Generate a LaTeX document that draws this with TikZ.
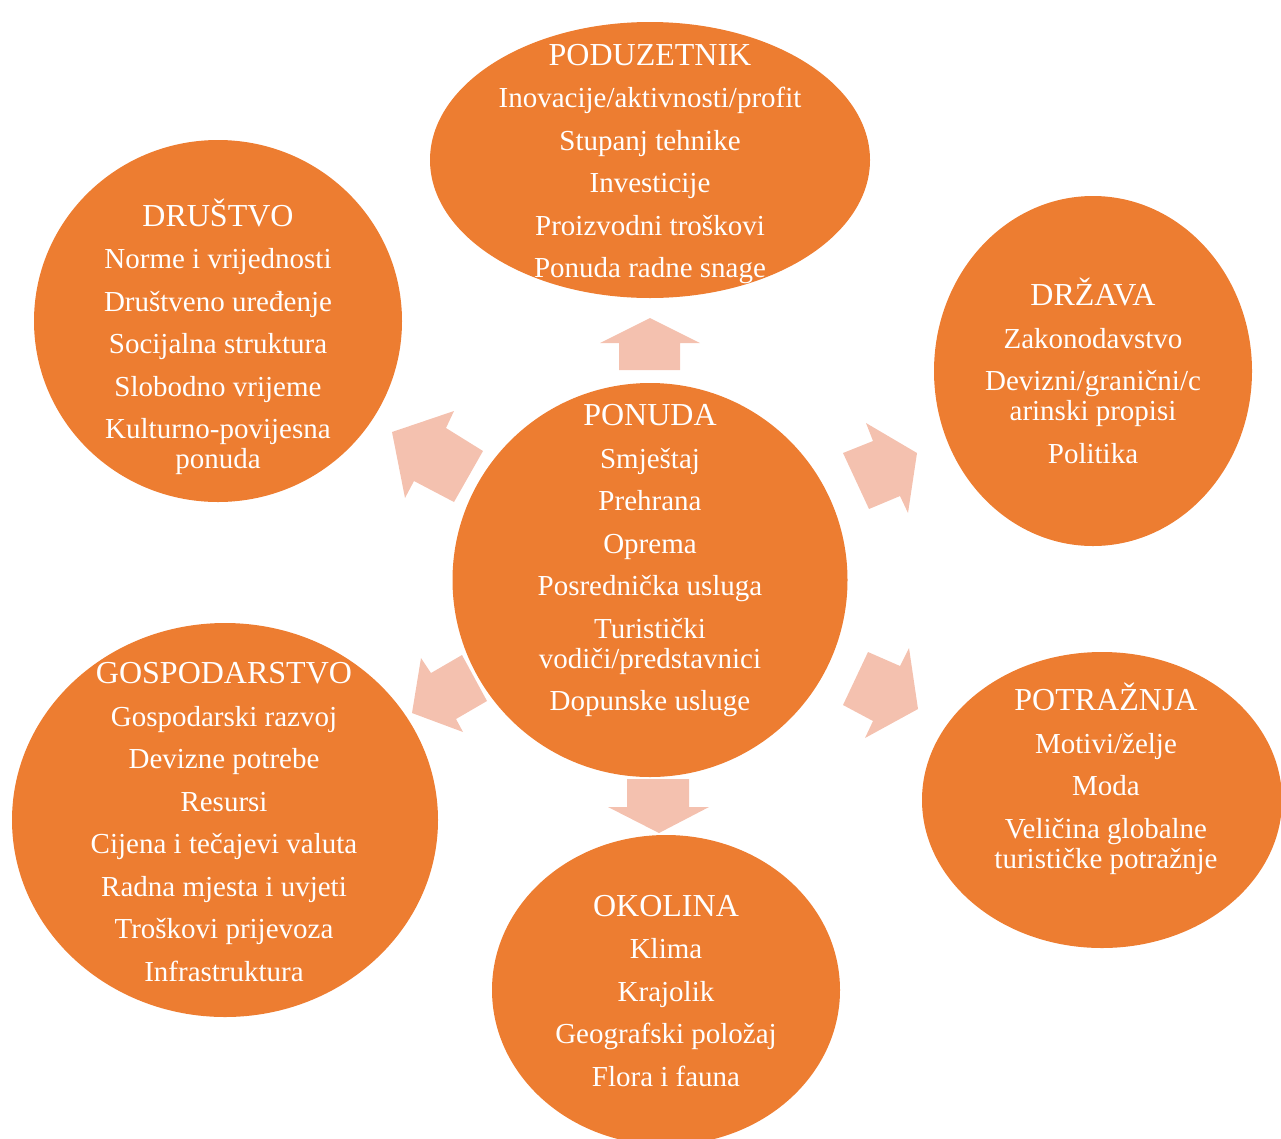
\documentclass[tikz,border=0pt]{standalone}
\usepackage{fontspec}
\setmainfont{Liberation Serif}
\usetikzlibrary{shapes.geometric}
\definecolor{orangeF}{HTML}{ED7D31}
\definecolor{salmon}{HTML}{F4C1AF}
\tikzset{
  bubble/.style={ellipse, fill=orangeF, draw=none, inner sep=0pt},
  label/.style={text=white, align=center, inner sep=0pt, font=\fontsize{29}{30}\selectfont},
  blockarrow/.style={fill=salmon, draw=none}
}
\newcommand{\gap}{\\[12.5pt]}
\newcommand{\ttl}[1]{{\fontsize{32}{30}\selectfont #1}}
\begin{document}
\begin{tikzpicture}[x=1pt,y=-1pt]
\useasboundingbox (0,0) rectangle (1281,1138);
% ellipses
\node[bubble, minimum width=440, minimum height=276] (pod) at (650,160) {};
\node[bubble, minimum width=368, minimum height=362] (dru) at (218,321) {};
\node[bubble, minimum width=318, minimum height=350] (drz) at (1093,371) {};
\node[bubble, minimum width=395, minimum height=394] (pon) at (650,580) {};
\node[bubble, minimum width=426, minimum height=394] (gos) at (225,820) {};
\node[bubble, minimum width=360, minimum height=296] (pot) at (1102,800) {};
\node[bubble, minimum width=348, minimum height=310] (oko) at (666,990) {};
% texts
\node[label] (podT) at (650,164) {\ttl{PODUZETNIK}\gap Inovacije/aktivnosti/profit\gap Stupanj tehnike\gap Investicije\gap Proizvodni troškovi\gap Ponuda radne snage};
\node[label] (druT) at (218,337) {\ttl{DRUŠTVO}\gap Norme i vrijednosti\gap Društveno uređenje\gap Socijalna struktura\gap Slobodno vrijeme\gap Kulturno-povijesna\\ ponuda};
\node[label] (drzT) at (1093,371) {\ttl{DRŽAVA}\gap Zakonodavstvo\gap Devizni/granični/c\\ arinski propisi\gap Politika};
\node[label] (ponT) at (650,561) {\ttl{PONUDA}\gap Smještaj\gap Prehrana\gap Oprema\gap Posrednička usluga\gap Turistički\\ vodiči/predstavnici\gap Dopunske usluge};
\node[label] (gosT) at (224,822) {\ttl{GOSPODARSTVO}\gap Gospodarski razvoj\gap Devizne potrebe\gap Resursi\gap Cijena i tečajevi valuta\gap Radna mjesta i uvjeti\gap Troškovi prijevoza\gap Infrastruktura};
\node[label] (potT) at (1106,779) {\ttl{POTRAŽNJA}\gap Motivi/želje\gap Moda\gap Veličina globalne\\ turističke potražnje};
\node[label] (okoT) at (666,991) {\ttl{OKOLINA}\gap Klima\gap Krajolik\gap Geografski položaj\gap Flora i fauna};
% block arrows
\fill[blockarrow] (619,370) -- (619,343) -- (600,343) -- (650,318) -- (700,343) -- (680,343) -- (680,370) -- cycle;
\fill[blockarrow] (627,779) -- (627,807) -- (608,807) -- (659,833) -- (709,807) -- (689,807) -- (689,779) -- cycle;
\fill[blockarrow] (392,432) -- (454,411) -- (446,428) -- (483,451) -- (454,502) -- (414,481) -- (405,498) -- cycle;
\fill[blockarrow] (917,453) -- (866,423) -- (873,441) -- (843,453) -- (869,509) -- (900,496) -- (908,513) -- cycle;
\fill[blockarrow] (412,713) -- (421,658) -- (431,673) -- (462,655) -- (487,701) -- (456,719) -- (463,732) -- cycle;
\fill[blockarrow] (918,709) -- (909,648) -- (900,666) -- (868,652) -- (843,705) -- (873,721) -- (865,738) -- cycle;
\end{tikzpicture}
\end{document}
